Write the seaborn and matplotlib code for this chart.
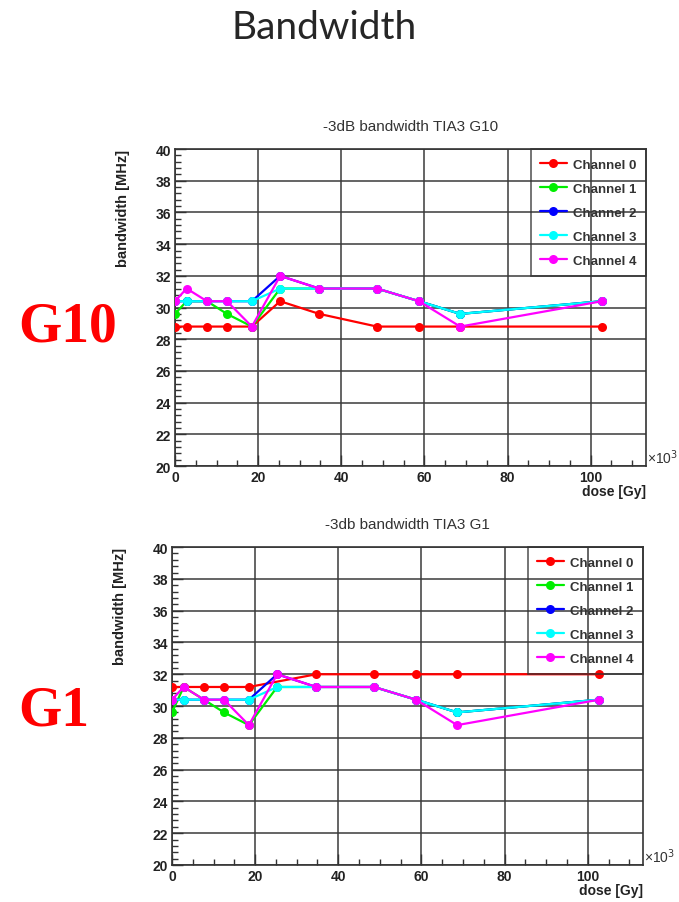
import numpy as np
import pandas as pd
import seaborn as sns
import matplotlib.pyplot as plt
from matplotlib.ticker import MultipleLocator

# dose in units of 10^3 Gy
dose = [0, 2.8, 7.7, 12.5, 18.5, 25.3, 34.7, 48.6, 58.7, 68.6, 102.7]
channels = ["Channel 0", "Channel 1", "Channel 2", "Channel 3", "Channel 4"]
colors = ["#ff0000", "#00ee00", "#0000ff", "#00ffff", "#ff00ff"]

# -3dB bandwidth [MHz], G10
g10_ch0 = [28.8, 28.8, 28.8, 28.8, 28.8, 30.4, 29.6, 28.8, 28.8, 28.8, 28.8]
g10_ch1 = [29.6, 30.4, 30.4, 29.6, 28.8, 31.2, 31.2, 31.2, 30.4, 29.6, 30.4]
g10_ch2 = [30.4, 30.4, 30.4, 30.4, 30.4, 32.0, 31.2, 31.2, 30.4, 29.6, 30.4]
g10_ch3 = [30.4, 30.4, 30.4, 30.4, 30.4, 31.2, 31.2, 31.2, 30.4, 29.6, 30.4]
g10_ch4 = [30.4, 31.2, 30.4, 30.4, 28.8, 32.0, 31.2, 31.2, 30.4, 28.8, 30.4]

# -3dB bandwidth [MHz], G1 (channel 0 has no point at the 6th dose)
g1_ch0 = [31.2, 31.2, 31.2, 31.2, 31.2, np.nan, 32.0, 32.0, 32.0, 32.0, 32.0]
g1_ch1 = [29.6, 31.2, 30.4, 29.6, 28.8, 31.2, 31.2, 31.2, 30.4, 29.6, 30.4]
g1_ch2 = [30.4, 30.4, 30.4, 30.4, 30.4, 32.0, 31.2, 31.2, 30.4, 29.6, 30.4]
g1_ch3 = [30.4, 30.4, 30.4, 30.4, 30.4, 31.2, 31.2, 31.2, 30.4, 29.6, 30.4]
g1_ch4 = [30.4, 31.2, 30.4, 30.4, 28.8, 32.0, 31.2, 31.2, 30.4, 28.8, 30.4]


def make_df(series):
    frames = []
    for name, vals in zip(channels, series):
        frames.append(pd.DataFrame({"dose": dose, "bw": vals, "channel": name}))
    return pd.concat(frames).dropna()


sns.set_style("white")
plt.rcParams["font.family"] = ["Liberation Sans", "DejaVu Sans"]

fig = plt.figure(figsize=(6.79, 9.03), dpi=100)
ax1 = fig.add_axes([0.2577, 0.4828, 0.6937, 0.351])
ax2 = fig.add_axes([0.2533, 0.041, 0.6937, 0.352])

panels = [
    (ax1, make_df([g10_ch0, g10_ch1, g10_ch2, g10_ch3, g10_ch4]), "-3dB bandwidth TIA3 G10"),
    (ax2, make_df([g1_ch0, g1_ch1, g1_ch2, g1_ch3, g1_ch4]), "-3db bandwidth TIA3 G1"),
]

for ax, df, title in panels:
    sns.lineplot(data=df, x="dose", y="bw", hue="channel", palette=colors,
                 marker="o", markersize=6.5, markeredgewidth=0, linewidth=1.6,
                 ax=ax, zorder=3)
    ax.set_xlim(0, 113.3)
    ax.set_ylim(20, 40)
    ax.xaxis.set_major_locator(MultipleLocator(20))
    ax.xaxis.set_minor_locator(MultipleLocator(5))
    ax.yaxis.set_major_locator(MultipleLocator(2))
    ax.yaxis.set_minor_locator(MultipleLocator(0.4))
    ax.grid(True, which="major", color="#3a3a3a", linewidth=1.1, zorder=1)
    ax.set_axisbelow(True)
    ax.tick_params(which="both", direction="in", bottom=True, left=True,
                   top=False, right=False, color="#333333")
    ax.tick_params(which="major", length=8, width=1, labelsize=10, pad=3)
    ax.tick_params(which="minor", length=4, width=1)
    for lab in ax.get_xticklabels() + ax.get_yticklabels():
        lab.set_fontweight("bold")
        lab.set_color("#222222")
    for sp in ax.spines.values():
        sp.set_color("#333333")
        sp.set_linewidth(1.2)
    ax.set_title(title, fontsize=11, color="#333333", pad=14)
    ax.set_ylabel("bandwidth [MHz]", loc="top", fontsize=10.5, fontweight="bold",
                  color="#222222")
    ax.yaxis.set_label_coords(-0.095, 1.0)
    ax.set_xlabel("dose [Gy]", loc="right", fontsize=10, fontweight="bold",
                  color="#222222", labelpad=0)
    ax.text(1.003, 0.0, "×10$^3$", transform=ax.transAxes, fontsize=10,
            color="#333333", va="bottom", ha="left")
    handles, labels = ax.get_legend_handles_labels()
    leg = ax.legend(handles, labels, loc="upper right", borderaxespad=0,
                    frameon=True, edgecolor="#333333",
                    fancybox=False, handlelength=2.0, labelspacing=0.9,
                    prop={"weight": "bold", "size": 9.5}, borderpad=0.7,
                    handletextpad=0.5)
    leg.get_frame().set_facecolor("none")
    leg.get_frame().set_linewidth(1.2)
    for t in leg.get_texts():
        t.set_color("#333333")

fig.text(324 / 679, 1 - 28 / 903, "Bandwidth", ha="center", va="center",
         fontsize=28, family="Lato")
fig.text(18 / 679, 1 - 327 / 903, "G10", ha="left", va="center", fontsize=40,
         family="Liberation Serif", fontweight="bold", color="#ff0000")
fig.text(18 / 679, 1 - 712 / 903, "G1", ha="left", va="center", fontsize=40,
         family="Liberation Serif", fontweight="bold", color="#ff0000")

fig.savefig("out.png", dpi=100)
